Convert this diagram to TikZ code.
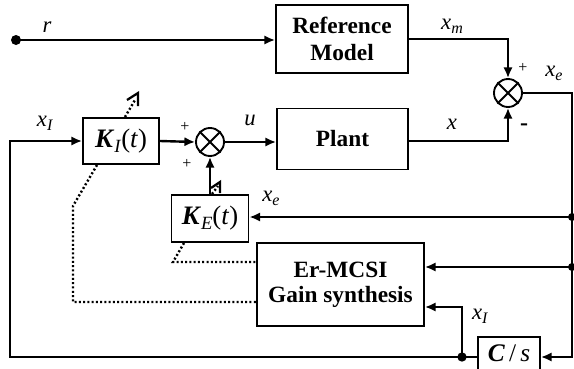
\documentclass[tikz,border=0pt]{standalone}
\usepackage{fontspec}
\setmainfont{Liberation Serif}
\usetikzlibrary{arrows.meta}
\newcommand{\vx}[1]{\textit{x}\raisebox{-0.4ex}{\fontsize{12}{12}\selectfont\textit{#1}}}
\newcommand{\bK}[1]{\textbf{\textit{K}}\raisebox{-0.4ex}{\fontsize{14}{14}\selectfont\textit{#1}}(\textit{t})}
\begin{document}
\begin{tikzpicture}[x=0.75pt,y=-0.75pt,
  blk/.style={draw,line width=1.4pt,inner sep=0pt,align=center,font=\fontsize{17.5}{19}\selectfont\bfseries},
  sumnode/.style={draw,circle,line width=1.4pt,minimum size=28pt*0.75,inner sep=0pt},
  arr/.style={line width=1.8pt,-{Latex[length=8pt,width=7pt]}},
  dots/.style={line width=1.8pt,dash pattern=on 1.5pt off 1.7pt},
  lbl/.style={font=\fontsize{17}{17}\selectfont},
  pl/.style={font=\fontsize{12}{12}\selectfont},
  dotj/.style={circle,fill,inner sep=0pt,minimum size=6pt}]
\useasboundingbox (0,0) rectangle (574,368);
\begin{scope}
\clip (0,0) rectangle (574,368);
% blocks
\node[blk,minimum width=132*0.75pt,minimum height=68*0.75pt] (ref) at (342,39) {Reference\\[1pt]Model};
\node[blk,minimum width=131*0.75pt,minimum height=61*0.75pt] (plant) at (342.5,139) {Plant};
\node[blk,minimum width=76*0.75pt,minimum height=46*0.75pt,font=\fontsize{20}{20}\selectfont] (KI) at (121,141) {\bK{I}};
\node[blk,minimum width=77*0.75pt,minimum height=47*0.75pt,font=\fontsize{20}{20}\selectfont] (KE) at (210,218.5) {\bK{E}};
\node[blk,minimum width=167*0.75pt,minimum height=83*0.75pt] (er) at (340.5,284.5) {Er-MCSI\\[0pt]Gain synthesis};
\node[blk,minimum width=62*0.75pt,minimum height=36*0.75pt,anchor=north] (cs) at (509,336) {};
\end{scope}
\node[font=\fontsize{19}{19}\selectfont] (cstext) at (509,353) {\textbf{\textit{C}}\,/\,\textit{s}};
\begin{scope}
\clip (0,0) rectangle (574,368);
% summing junctions
\node[sumnode] (s1) at (508,93) {};
\draw[line width=1.4pt] (s1.north west) -- (s1.south east) (s1.north east) -- (s1.south west);
\node[sumnode] (s2) at (210,142) {};
\draw[line width=1.4pt] (s2.north west) -- (s2.south east) (s2.north east) -- (s2.south west);
% points
\node[dotj,minimum size=7.5pt] (start) at (16,40) {};
\coordinate (rc) at (572,93);
\node[dotj] (j1) at (572,217) {};
\node[dotj] (j2) at (572,267) {};
\coordinate (rb) at (572,357);
\node[dotj,minimum size=7pt] (jx) at (462,357) {};
\coordinate (jxu) at (462,307);
\coordinate (lb) at (10,357);
\coordinate (lt) at (10,141);
% connectors
\draw[arr] (start.center) -- (start -| ref.west);
\draw[arr] (ref.east) -- (s1 |- ref.east) -- (s1.north);
\draw[arr] (plant.east |- 0,141) -- (s1 |- 0,141) -- (s1.south);
\draw[arr] (s1.east) -- (rc) -- (rb) -- (cs.east |- rb);
\draw[arr] (j1.center) -- (j1 -| KE.east);
\draw[arr] (j2.center) -- (j2 -| er.east);
\draw[arr] (jx.center) -- (jxu) -- (jxu -| er.east);
\draw[arr] (cs.west |- rb) -- (jx.center) -- (lb) -- (lt) -- (KI.west |- lt);
\draw[arr] (KI.east) -- (s2.west);
\draw[arr] (s2.east) -- (s2 -| plant.west);
\draw[arr] (KE.north) -- (s2.south);
% dotted adaptation lines
\coordinate (d1) at (73,206);
\coordinate (d2) at (73,302);
\draw[dots] (97,165) -- (d1) -- (d2) -- (d2 -| er.west);
\coordinate (d3) at (173,262);
\draw[dots] (184,243) -- (d3) -- (d3 -| er.west);
% adjustable arrows
\draw[dots] (125,117) -- (135,100);
\draw[line width=1.7pt] (127,100) -- (138,93) -- (138,106);
\draw[dots] (212,194) -- (218,186);
\draw[line width=1.7pt] (211,188) -- (220,182) -- (220,193);
\end{scope}
% labels
\node[lbl] at (47,27) {\textit{r}};
\node[lbl] at (452,26) {\vx{m}};
\node[lbl] at (452,124) {\textit{x}};
\node[pl] at (523,68) {+};
\node[lbl] at (554,73) {\vx{e}};
\node[font=\fontsize{18}{18}\selectfont\bfseries] at (524,127) {-};
\node[lbl] at (45,123) {\vx{I}};
\node[pl] at (185,127) {+};
\node[pl] at (187,164) {+};
\node[lbl] at (250,120) {\textit{u}};
\node[lbl] at (271,198) {\vx{e}};
\node[lbl] at (480,316) {\vx{I}};
\end{tikzpicture}
\end{document}
